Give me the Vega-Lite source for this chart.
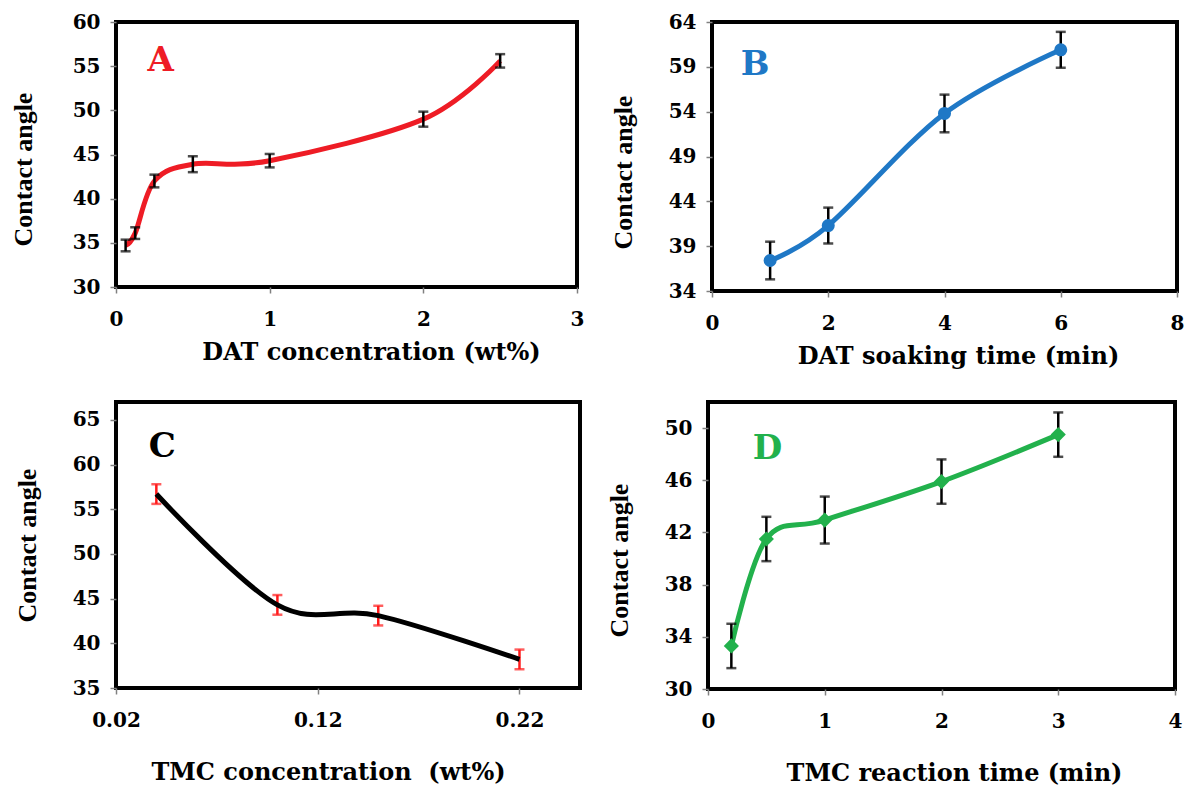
{
  "$schema": "https://vega.github.io/schema/vega-lite/v6.json",
  "padding": {"left": 8, "top": 10, "right": 5, "bottom": 5},
  "background": "white",
  "datasets": {
    "A": [
      {"x": 0.0625, "y": 34.7, "err": 0.66},
      {"x": 0.125, "y": 36.1, "err": 0.66},
      {"x": 0.25, "y": 42.0, "err": 0.72},
      {"x": 0.5, "y": 43.9, "err": 0.9},
      {"x": 1, "y": 44.3, "err": 0.76},
      {"x": 2, "y": 49.0, "err": 0.85},
      {"x": 2.5, "y": 55.6, "err": 0.76}
    ],
    "B": [
      {"x": 1, "y": 37.4, "err": 2.1},
      {"x": 2, "y": 41.3, "err": 2.0},
      {"x": 4, "y": 53.8, "err": 2.1},
      {"x": 6, "y": 60.9, "err": 2.0}
    ],
    "C": [
      {"x": 0.04, "y": 56.7, "err": 1.1},
      {"x": 0.10, "y": 44.3, "err": 1.1},
      {"x": 0.15, "y": 43.1, "err": 1.1},
      {"x": 0.22, "y": 38.2, "err": 1.1}
    ],
    "D": [
      {"x": 0.2, "y": 33.3, "err": 1.7},
      {"x": 0.5, "y": 41.5, "err": 1.7},
      {"x": 1, "y": 42.95, "err": 1.8},
      {"x": 2, "y": 45.9, "err": 1.7},
      {"x": 3, "y": 49.5, "err": 1.7}
    ],
    "labels": [
      {"panel": "A", "label": "A", "x": 0.29, "y": 55.6},
      {"panel": "B", "label": "B", "x": 0.74, "y": 59.2},
      {"panel": "C", "label": "C", "x": 0.043, "y": 62.0},
      {"panel": "D", "label": "D", "x": 0.51, "y": 48.4}
    ]
  },
  "vconcat": [
    {
      "hconcat": [
        {
          "width": 461, "height": 265,
          "encoding": {
            "x": {"field": "x", "type": "quantitative", "title": "DAT concentration (wt%)", "scale": {"domain": [0, 3], "nice": false}, "axis": {"values": [0, 1, 2, 3], "format": "d", "titleX": 255}},
            "y": {"field": "y", "type": "quantitative", "title": "Contact angle", "scale": {"domain": [30, 60], "nice": false, "zero": false}, "axis": {"values": [30, 35, 40, 45, 50, 55, 60], "format": "d", "titlePadding": 36, "titleY": 147}}
          },
          "layer": [
            {"data": {"name": "A"}, "mark": {"type": "line", "interpolate": "cardinal", "color": "#ee1c25", "strokeWidth": 5}},
            {"data": {"name": "A"}, "mark": {"type": "errorbar", "ticks": true, "color": "black", "thickness": 2.5, "size": 10},
             "encoding": {"yError": {"field": "err"}}},
            {"data": {"name": "labels"}, "transform": [{"filter": "datum.panel == 'A'"}],
             "mark": {"type": "text", "font": "DejaVu Serif", "fontWeight": "bold", "fontSize": 34, "color": "#ee1c25", "baseline": "middle", "align": "center"},
             "encoding": {"text": {"field": "label"}}}
          ]
        },
        {
          "width": 465, "height": 269,
          "encoding": {
            "x": {"field": "x", "type": "quantitative", "title": "DAT soaking time (min)", "scale": {"domain": [0, 8], "nice": false}, "axis": {"values": [0, 2, 4, 6, 8], "format": "d", "titleX": 246}},
            "y": {"field": "y", "type": "quantitative", "title": "Contact angle", "scale": {"domain": [34, 64], "nice": false, "zero": false}, "axis": {"values": [34, 39, 44, 49, 54, 59, 64], "format": "d", "titlePadding": 32, "titleY": 150}}
          },
          "layer": [
            {"data": {"name": "B"}, "mark": {"type": "line", "interpolate": "cardinal", "color": "#1f78c6", "strokeWidth": 5}},
            {"data": {"name": "B"}, "mark": {"type": "errorbar", "ticks": true, "color": "black", "thickness": 2.5, "size": 10},
             "encoding": {"yError": {"field": "err"}}},
            {"data": {"name": "B"}, "mark": {"type": "point", "shape": "circle", "filled": true, "opacity": 1, "size": 170, "color": "#1f78c6"}},
            {"data": {"name": "labels"}, "transform": [{"filter": "datum.panel == 'B'"}],
             "mark": {"type": "text", "font": "DejaVu Serif", "fontWeight": "bold", "fontSize": 34, "color": "#1f78c6", "baseline": "middle", "align": "center"},
             "encoding": {"text": {"field": "label"}}}
          ]
        }
      ],
      "spacing": 22
    },
    {
      "hconcat": [
        {
          "width": 464, "height": 286,
          "encoding": {
            "x": {"field": "x", "type": "quantitative", "title": "TMC concentration \u00a0(wt%)", "scale": {"domain": [0.02, 0.25], "nice": false, "zero": false}, "axis": {"values": [0.02, 0.12, 0.22], "format": ".2f", "titlePadding": 30, "titleX": 212}},
            "y": {"field": "y", "type": "quantitative", "title": "Contact angle", "scale": {"domain": [35, 67], "nice": false, "zero": false}, "axis": {"values": [35, 40, 45, 50, 55, 60, 65], "format": "d", "titlePadding": 32}}
          },
          "layer": [
            {"data": {"name": "C"}, "mark": {"type": "errorbar", "ticks": true, "color": "#ff1a1a", "thickness": 2.5, "size": 10},
             "encoding": {"yError": {"field": "err"}}},
            {"data": {"name": "C"}, "mark": {"type": "line", "interpolate": "cardinal", "color": "black", "strokeWidth": 5}},
            {"data": {"name": "labels"}, "transform": [{"filter": "datum.panel == 'C'"}],
             "mark": {"type": "text", "font": "DejaVu Serif", "fontWeight": "bold", "fontSize": 34, "color": "black", "baseline": "middle", "align": "center"},
             "encoding": {"text": {"field": "label"}}}
          ]
        },
        {
          "width": 467, "height": 287,
          "encoding": {
            "x": {"field": "x", "type": "quantitative", "title": "TMC reaction time (min)", "scale": {"domain": [0, 4], "nice": false}, "axis": {"values": [0, 1, 2, 3, 4], "format": "d", "titlePadding": 30, "titleX": 246}},
            "y": {"field": "y", "type": "quantitative", "title": "Contact angle", "scale": {"domain": [30, 52], "nice": false, "zero": false}, "axis": {"values": [30, 34, 38, 42, 46, 50], "format": "d", "titlePadding": 32, "titleY": 158}}
          },
          "layer": [
            {"data": {"name": "D"}, "mark": {"type": "line", "interpolate": "cardinal", "color": "#22b14c", "strokeWidth": 5}},
            {"data": {"name": "D"}, "mark": {"type": "errorbar", "ticks": true, "color": "black", "thickness": 2.5, "size": 10},
             "encoding": {"yError": {"field": "err"}}},
            {"data": {"name": "D"}, "mark": {"type": "point", "shape": "diamond", "filled": true, "opacity": 1, "size": 230, "color": "#22b14c"}},
            {"data": {"name": "labels"}, "transform": [{"filter": "datum.panel == 'D'"}],
             "mark": {"type": "text", "font": "DejaVu Serif", "fontWeight": "bold", "fontSize": 34, "color": "#22b14c", "baseline": "middle", "align": "center"},
             "encoding": {"text": {"field": "label"}}}
          ]
        }
      ],
      "spacing": 22
    }
  ],
  "spacing": 30,
  "config": {
    "view": {"stroke": "black", "strokeWidth": 4},
    "axis": {
      "grid": false, "domain": false,
      "tickColor": "#808080", "tickSize": 6, "tickWidth": 1.5,
      "labelFont": "DejaVu Serif", "labelFontSize": 20, "labelFontWeight": "bold", "labelColor": "black",
      "labelFlush": false, "labelOverlap": false,
      "titleFontWeight": "bold", "titleColor": "black"
    },
    "axisX": {"titleFont": "DejaVu Serif", "titleFontSize": 24, "labelPadding": 16, "titlePadding": 11},
    "axisY": {"titleFont": "Liberation Serif", "titleFontSize": 26, "labelPadding": 10}
  }
}
